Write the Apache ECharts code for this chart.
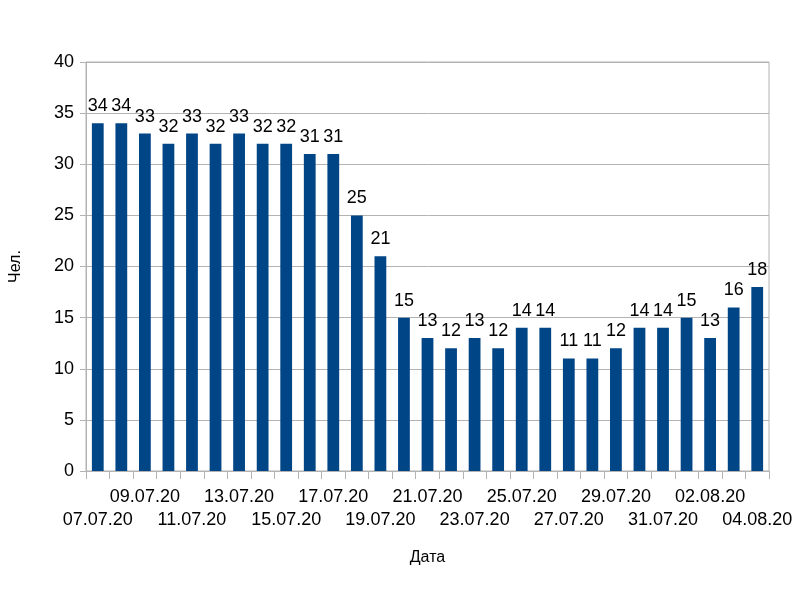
<!DOCTYPE html>
<html><head><meta charset="utf-8">
<script src="https://cdn.jsdelivr.net/npm/echarts@6/dist/echarts.min.js"></script>
<style>html,body{margin:0;padding:0;background:#fff}#c{width:800px;height:600px}</style>
</head><body><div id="c"></div>
<script>
const dates = ['07.07.20','08.07.20','09.07.20','10.07.20','11.07.20','12.07.20','13.07.20','14.07.20','15.07.20','16.07.20','17.07.20','18.07.20','19.07.20','20.07.20','21.07.20','22.07.20','23.07.20','24.07.20','25.07.20','26.07.20','27.07.20','28.07.20','29.07.20','30.07.20','31.07.20','01.08.20','02.08.20','03.08.20','04.08.20'];
const values = [34,34,33,32,33,32,33,32,32,31,31,25,21,15,13,12,13,12,14,14,11,11,12,14,14,15,13,16,18];
const yTicks = [0,5,10,15,20,25,30,35,40];
const font = 'Liberation Sans, Arial, sans-serif';
const chart = echarts.init(document.getElementById('c'));
const labelBase = {hideOverlap:false,fontFamily:font,fontSize:18,color:'#000'};
chart.setOption({
  animation:false,
  grid:{left:83,right:31,top:62,bottom:129,show:true,borderColor:'#b3b3b3',borderWidth:1},
  xAxis:[
    {type:'category',data:dates,position:'bottom',name:'Дата',nameLocation:'middle',nameGap:79,
      nameTextStyle:{fontFamily:font,fontSize:16,color:'#000'},
      axisLine:{lineStyle:{color:'#b3b3b3'}},
      axisTick:{show:true,interval:0,length:8,lineStyle:{color:'#b3b3b3'}},
      axisLabel:Object.assign({},labelBase,{margin:40,interval:function(i){return i%4===0;}})},
    {type:'category',data:dates,position:'bottom',
      axisLine:{show:false},axisTick:{show:false},
      axisLabel:Object.assign({},labelBase,{margin:17,interval:function(i){return i%4===2;}})}
  ],
  yAxis:{type:'value',min:0,max:40,interval:5,name:'Чел.',nameLocation:'middle',nameGap:62,
    nameTextStyle:{fontFamily:font,fontSize:16,color:'#000'},
    axisLine:{show:true,lineStyle:{color:'#b3b3b3'}},
    axisTick:{show:true,length:6,lineStyle:{color:'#b3b3b3'}},
    splitLine:{lineStyle:{color:'#b3b3b3'}},
    axisLabel:{fontFamily:font,fontSize:18,color:'#000',margin:12,
      formatter:function(v){return yTicks.indexOf(v)>=0?String(v):'';}}},
  series:[{type:'bar',data:values,barWidth:'50%',itemStyle:{color:'#004586'},
    label:{show:true,position:'top',distance:8,fontFamily:font,fontSize:18,color:'#000'}}]
});
</script></body></html>
